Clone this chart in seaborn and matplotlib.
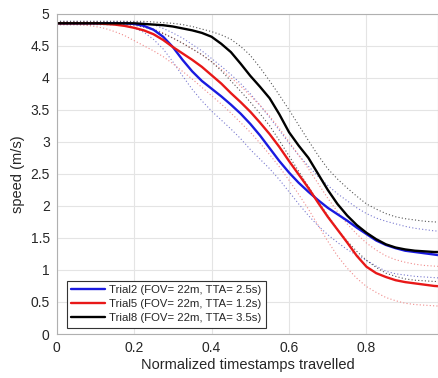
import numpy as np
import pandas as pd
import matplotlib
matplotlib.use("Agg")
import matplotlib.pyplot as plt
import seaborn as sns

x = [0.0, 0.025, 0.05, 0.075, 0.1, 0.125, 0.15, 0.175, 0.2, 0.225,
     0.25, 0.275, 0.3, 0.325, 0.35, 0.375, 0.4, 0.425, 0.45, 0.475,
     0.5, 0.525, 0.55, 0.575, 0.6, 0.625, 0.65, 0.675, 0.7, 0.725,
     0.75, 0.775, 0.8, 0.825, 0.85, 0.875, 0.9, 0.925, 0.95, 0.975, 1.0]

trial2 = [4.85, 4.85, 4.85, 4.85, 4.85, 4.85, 4.85, 4.85, 4.84, 4.81,
          4.75, 4.64, 4.48, 4.28, 4.10, 3.95, 3.83, 3.71, 3.58, 3.44,
          3.28, 3.10, 2.90, 2.70, 2.52, 2.36, 2.22, 2.09, 1.97, 1.87,
          1.77, 1.66, 1.56, 1.46, 1.39, 1.34, 1.30, 1.28, 1.26, 1.24, 1.22]
trial2_hi = [4.88, 4.88, 4.88, 4.88, 4.88, 4.88, 4.88, 4.88, 4.87, 4.86,
             4.83, 4.77, 4.70, 4.62, 4.52, 4.42, 4.30, 4.18, 4.05, 3.91,
             3.75, 3.57, 3.38, 3.18, 2.98, 2.79, 2.62, 2.46, 2.32, 2.19,
             2.08, 1.97, 1.88, 1.81, 1.76, 1.72, 1.68, 1.65, 1.63, 1.61, 1.60]
trial2_lo = [4.83, 4.83, 4.83, 4.83, 4.83, 4.83, 4.83, 4.81, 4.78, 4.71,
             4.60, 4.45, 4.25, 4.03, 3.82, 3.64, 3.48, 3.34, 3.20, 3.05,
             2.88, 2.73, 2.58, 2.41, 2.22, 2.03, 1.85, 1.69, 1.55, 1.43,
             1.32, 1.23, 1.15, 1.06, 0.98, 0.94, 0.92, 0.90, 0.89, 0.88, 0.87]

trial5 = [4.85, 4.85, 4.85, 4.85, 4.85, 4.84, 4.83, 4.81, 4.78, 4.74,
          4.68, 4.59, 4.48, 4.38, 4.28, 4.17, 4.04, 3.91, 3.76, 3.62,
          3.47, 3.30, 3.12, 2.92, 2.70, 2.49, 2.28, 2.05, 1.83, 1.63,
          1.43, 1.22, 1.05, 0.95, 0.89, 0.84, 0.81, 0.79, 0.77, 0.75, 0.74]
trial5_hi = [4.87, 4.87, 4.87, 4.87, 4.87, 4.87, 4.86, 4.85, 4.83, 4.80,
             4.76, 4.70, 4.62, 4.54, 4.45, 4.36, 4.25, 4.13, 4.00, 3.87,
             3.72, 3.57, 3.40, 3.21, 3.00, 2.79, 2.58, 2.35, 2.12, 1.91,
             1.72, 1.56, 1.42, 1.31, 1.22, 1.16, 1.12, 1.09, 1.07, 1.06, 1.05]
trial5_lo = [4.83, 4.83, 4.83, 4.82, 4.80, 4.77, 4.72, 4.66, 4.58, 4.50,
             4.42, 4.33, 4.22, 4.10, 3.98, 3.85, 3.72, 3.59, 3.45, 3.30,
             3.15, 2.98, 2.80, 2.61, 2.40, 2.18, 1.95, 1.70, 1.45, 1.22,
             1.03, 0.87, 0.74, 0.65, 0.57, 0.52, 0.48, 0.46, 0.45, 0.44, 0.43]

trial8 = [4.85, 4.85, 4.85, 4.85, 4.85, 4.85, 4.85, 4.85, 4.85, 4.84,
          4.83, 4.82, 4.80, 4.77, 4.74, 4.70, 4.64, 4.53, 4.40, 4.22,
          4.03, 3.86, 3.68, 3.43, 3.15, 2.94, 2.75, 2.50, 2.25, 2.03,
          1.85, 1.70, 1.58, 1.48, 1.40, 1.35, 1.32, 1.30, 1.29, 1.28, 1.28]
trial8_hi = [4.88, 4.88, 4.88, 4.88, 4.88, 4.88, 4.88, 4.88, 4.88, 4.88,
             4.87, 4.86, 4.85, 4.83, 4.80, 4.76, 4.72, 4.67, 4.60, 4.49,
             4.35, 4.16, 3.95, 3.73, 3.50, 3.26, 3.02, 2.79, 2.58, 2.42,
             2.28, 2.15, 2.03, 1.95, 1.88, 1.83, 1.80, 1.78, 1.76, 1.75, 1.74]
trial8_lo = [4.83, 4.83, 4.83, 4.83, 4.83, 4.83, 4.83, 4.83, 4.82, 4.79,
             4.75, 4.69, 4.62, 4.54, 4.45, 4.36, 4.25, 4.11, 3.95, 3.79,
             3.62, 3.44, 3.25, 3.02, 2.78, 2.54, 2.30, 2.07, 1.85, 1.64,
             1.45, 1.29, 1.15, 1.04, 0.95, 0.90, 0.86, 0.84, 0.83, 0.82, 0.82]

labels = ["Trial2 (FOV= 22m, TTA= 2.5s)",
          "Trial5 (FOV= 22m, TTA= 1.2s)",
          "Trial8 (FOV= 22m, TTA= 3.5s)"]
xticks = [0, 0.2, 0.4, 0.6, 0.8]
xticklabels = ["0", "0.2", "0.4", "0.6", "0.8"]
yticks = [0, 0.5, 1, 1.5, 2, 2.5, 3, 3.5, 4, 4.5, 5]
yticklabels = ["0", "0.5", "1", "1.5", "2", "2.5", "3", "3.5", "4", "4.5", "5"]

sns.set_style("whitegrid")
plt.rcParams["font.family"] = ["Liberation Sans", "DejaVu Sans"]

fig = plt.figure(figsize=(4.39, 3.78), dpi=100)
ax = fig.add_axes([0.129, 0.1164, 0.869, 0.8474])

main_colors = ["#1a1ae0", "#e81818", "#000000"]
band_colors = ["#7a7ad0", "#f08a8a", "#555555"]
mains = [trial2, trial5, trial8]
his = [trial2_hi, trial5_hi, trial8_hi]
los = [trial2_lo, trial5_lo, trial8_lo]

for hi, lo, c in zip(his, los, band_colors):
    sns.lineplot(x=x, y=hi, ax=ax, color=c, linestyle=(0, (1, 2)), linewidth=0.8)
    sns.lineplot(x=x, y=lo, ax=ax, color=c, linestyle=(0, (1, 2)), linewidth=0.8)

handles = []
for m, c, lab in zip(mains, main_colors, labels):
    sns.lineplot(x=x, y=m, ax=ax, color=c, linewidth=1.7)
    handles.append(ax.lines[-1])

ax.set_xlim(0, 0.985)
ax.set_ylim(0, 5)
ax.set_xticks(xticks)
ax.set_xticklabels(xticklabels)
ax.set_yticks(yticks)
ax.set_yticklabels(yticklabels)
ax.grid(True, color="#e4e4e4", linewidth=0.8)
for s in ax.spines.values():
    s.set_color("#b0b0b0")
    s.set_linewidth(0.8)
ax.tick_params(axis="both", direction="in", length=3, color="#b0b0b0",
               labelsize=10, labelcolor="#262626", pad=5)
ax.set_xlabel("Normalized timestamps travelled", fontsize=10.5, color="#262626", labelpad=2)
ax.set_ylabel("speed (m/s)", fontsize=10.5, color="#262626", labelpad=4)

leg = ax.legend(handles, labels, loc="lower left", bbox_to_anchor=(0.027, 0.02),
                fontsize=8.2, frameon=True, fancybox=False, handlelength=2.9,
                handletextpad=0.4, borderpad=0.4, labelspacing=0.35,
                borderaxespad=0)
leg.get_frame().set_edgecolor("#333333")
leg.get_frame().set_linewidth(0.8)
leg.get_frame().set_alpha(1)

fig.savefig("out.png", dpi=100)
